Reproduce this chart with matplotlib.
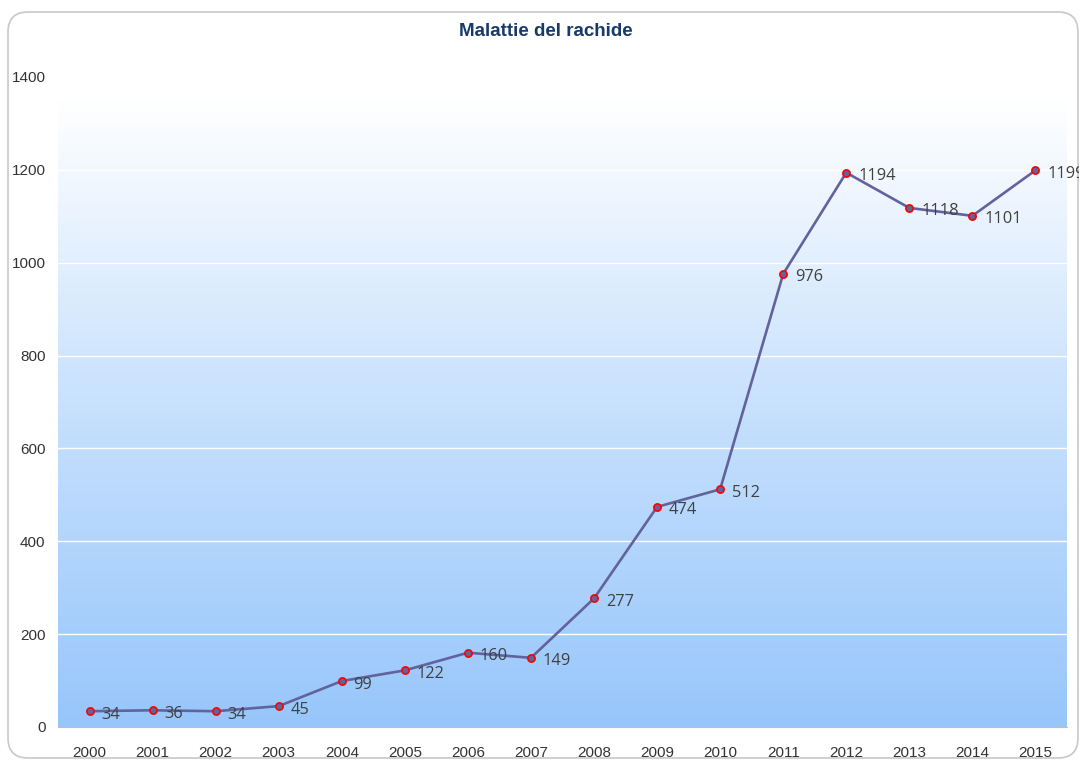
import numpy as np
from matplotlib import pyplot as plt
from matplotlib.colors import LinearSegmentedColormap
from matplotlib.patches import FancyBboxPatch

# chart data
years = [str(y) for y in range(2000, 2016)]
values = [34, 36, 34, 45, 99, 122, 160, 149, 277, 474, 512, 976, 1194, 1118, 1101, 1199]
yticks = [0, 200, 400, 600, 800, 1000, 1200, 1400]
title = "Malattie del rachide"

W, H = 1079, 760
fig = plt.figure(figsize=(W / 100, H / 100), dpi=100)

# rounded chart border (behind the axes)
border = FancyBboxPatch((0.08, 0.02), 10.70, 7.46, boxstyle="round,pad=0,rounding_size=0.2",
                        transform=fig.dpi_scale_trans, facecolor="white",
                        edgecolor="#c8c8c8", linewidth=1.2, zorder=-10)
fig.patches.append(border)

ax = fig.add_axes([58 / W, 33 / H, 1009 / W, 650 / H])
ax.set_facecolor("white")

# gradient background
x = np.arange(len(years))
cmap = LinearSegmentedColormap.from_list("bg", ["#97c6fb", "#c6e0fd", "#ffffff"])
grad = np.linspace(0, 1, 256)[:, None]
ax.imshow(grad, cmap=cmap, origin="lower", aspect="auto",
          extent=[-0.5, len(years) - 0.5, 0, 1350], zorder=0)

ax.set_xlim(-0.5, len(years) - 0.5)
ax.set_ylim(0, 1400)

for t in yticks[1:-1]:
    ax.axhline(t, color="white", linewidth=1, zorder=1)

ax.plot(x, values, color="#62629c", linewidth=1.9, marker="o", markersize=5.2,
        markerfacecolor="#62629c", markeredgecolor="#ff0000", markeredgewidth=1.2,
        zorder=3, clip_on=False)

for xi, v in zip(x, values):
    ax.annotate(str(v), (xi, v), xytext=(8.5, -2.5), textcoords="offset points",
                ha="left", va="center", fontsize=11.8, family="Open Sans",
                color="#404040", zorder=4, annotation_clip=False)

ax.set_xticks(x)
ax.set_xticklabels(years)
ax.set_yticks(yticks)
ax.tick_params(axis="both", length=0, labelsize=11, colors="#333333")
ax.tick_params(axis="x", pad=14)
ax.tick_params(axis="y", pad=9)
for lbl in ax.get_xticklabels() + ax.get_yticklabels():
    lbl.set_family("Liberation Sans")

for s in ["top", "right", "left"]:
    ax.spines[s].set_visible(False)
ax.spines["bottom"].set_color("#bfbfbf")

fig.text(546 / W, 1 - 32 / H, title, ha="center", va="center", fontsize=13.5,
         fontweight="bold", family="Liberation Sans", color="#173a6b")

fig.savefig("out.png", dpi=100)
